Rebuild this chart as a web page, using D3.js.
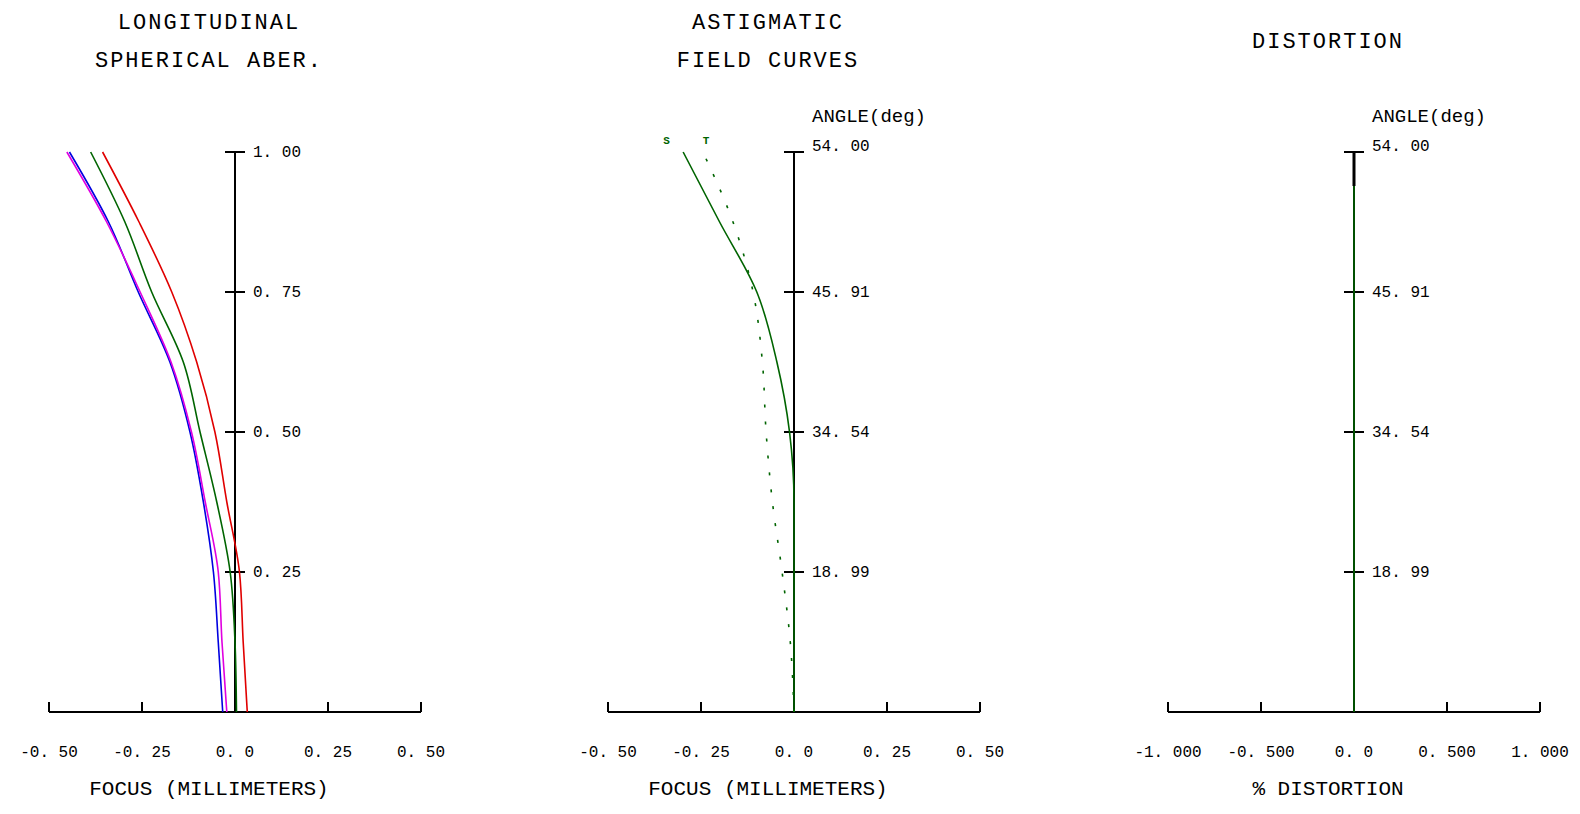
<!DOCTYPE html>
<html>
<head>
<meta charset="utf-8">
<script src="https://d3js.org/d3.v7.min.js"></script>
<style>
  html, body { margin: 0; background: #fff; overflow: hidden; }
  svg { display: block; }
  text { font-family: "Liberation Mono", "DejaVu Sans Mono", monospace; fill: #000; }
</style>
</head>
<body>
<svg id="chart" width="1580" height="814"></svg>
<script>
// longitudinal spherical aberration: relative pupil height vs focus (mm)
var pupil = [0, 0.125, 0.25, 0.375, 0.5, 0.625, 0.75, 0.875, 1.0];
var sphRed = [0.033, 0.022, 0.012, -0.022, -0.054, -0.103, -0.170, -0.258, -0.356];
var sphGreen = [0.004, 0.0, -0.013, -0.049, -0.094, -0.139, -0.224, -0.296, -0.388];
var sphBlue = [-0.033, -0.045, -0.058, -0.085, -0.121, -0.175, -0.260, -0.340, -0.445];
var sphMagenta = [-0.022, -0.035, -0.045, -0.080, -0.117, -0.172, -0.255, -0.345, -0.452];

// astigmatic field curves: relative field height vs focus (mm)
var field = [0, 0.125, 0.25, 0.375, 0.5, 0.625, 0.75, 0.875, 1.0];
var sagittal = [0, 0, 0, 0, -0.012, -0.046, -0.100, -0.200, -0.298];
var tangential = [0, -0.010, -0.032, -0.058, -0.075, -0.085, -0.110, -0.164, -0.245];

// distortion (%)
var distortion = [0, 0, 0, 0, 0, 0, 0, 0, 0];

var fieldPos = [0.25, 0.5, 0.75, 1.0];
var fieldTicks = ["18.99", "34.54", "45.91", "54.00"];
var pupilTicks = ["0.25", "0.50", "0.75", "1.00"];
var focusTicks = [-0.5, -0.25, 0, 0.25, 0.5];
var focusLabels = ["-0.50", "-0.25", "0.0", "0.25", "0.50"];
var distTicks = [-1, -0.5, 0, 0.5, 1];
var distLabels = ["-1.000", "-0.500", "0.0", "0.500", "1.000"];

var svg = d3.select("#chart");
var yTop = 152, yBot = 712;
var sp = function (s) { return s.replace(".", ". "); };

function panel(x0, domain, yLabels, xTicks, xLabels, title, xLabel, angleLabel) {
  var x = d3.scaleLinear().domain(domain).range([x0, x0 + 372]);
  var y = d3.scaleLinear().domain([0, 1]).range([yBot, yTop]);
  var g = svg.append("g");
  g.append("line").attr("x1", x0).attr("x2", x0 + 372).attr("y1", yBot).attr("y2", yBot)
    .attr("stroke", "#000").attr("stroke-width", 2);
  xTicks.forEach(function (t, i) {
    g.append("line").attr("x1", x(t)).attr("x2", x(t)).attr("y1", yBot).attr("y2", yBot - 10)
      .attr("stroke", "#000").attr("stroke-width", 2);
    g.append("text").attr("x", x(t)).attr("y", 757).attr("text-anchor", "middle")
      .attr("font-size", 16).text(sp(xLabels[i]));
  });
  var x0v = x(0);
  g.append("line").attr("x1", x0v).attr("x2", x0v).attr("y1", yTop).attr("y2", yBot)
    .attr("stroke", "#000").attr("stroke-width", 2);
  fieldPos.forEach(function (t, i) {
    g.append("line").attr("x1", x0v - 10).attr("x2", x0v + 10).attr("y1", y(t)).attr("y2", y(t))
      .attr("stroke", "#000").attr("stroke-width", 2);
    g.append("text").attr("x", x0v + 18).attr("y", y(t) + 5 - (angleLabel && i == 3 ? 6 : 0))
      .attr("font-size", 16).text(sp(yLabels[i]));
  });
  g.append("text").attr("x", x0 + 160).attr("y", 795).attr("text-anchor", "middle")
    .attr("font-size", 21).text(xLabel);
  title.forEach(function (s, i) {
    g.append("text").attr("x", x0 + 160).attr("y", (title.length == 1 ? 48 : 29) + i * 38)
      .attr("text-anchor", "middle").attr("font-size", 22).attr("letter-spacing", 2).text(s);
  });
  if (angleLabel) {
    g.append("text").attr("x", x0v + 18).attr("y", 122).attr("font-size", 19).text("ANGLE(deg)");
  }
  return { x: x, y: y, g: g };
}

function curve(p, ys, xs, color, dash) {
  p.g.append("path")
    .datum(ys.map(function (v, i) { return [xs[i], v]; }))
    .attr("fill", "none").attr("stroke", color).attr("stroke-width", 1.6)
    .attr("stroke-dasharray", dash || null)
    .attr("d", d3.line().curve(d3.curveMonotoneY)
      .x(function (d) { return p.x(d[1]); }).y(function (d) { return p.y(d[0]); }));
}

var p1 = panel(49, [-0.5, 0.5], pupilTicks, focusTicks, focusLabels,
  ["LONGITUDINAL", "SPHERICAL ABER."], "FOCUS (MILLIMETERS)", false);
curve(p1, sphRed, pupil, "#e00000");
curve(p1, sphGreen, pupil, "#006400");
curve(p1, sphBlue, pupil, "#0000e0");
curve(p1, sphMagenta, pupil, "#e000e0");

var p2 = panel(608, [-0.5, 0.5], fieldTicks, focusTicks, focusLabels,
  ["ASTIGMATIC", "FIELD CURVES"], "FOCUS (MILLIMETERS)", true);
curve(p2, sagittal, field, "#006400");
curve(p2, tangential, field, "#006400", "3,14");
p2.g.append("text").attr("x", p2.x(sagittal[8]) - 20).attr("y", 144).attr("font-size", 11)
  .attr("font-weight", "bold").style("fill", "#006400").text("S");
p2.g.append("text").attr("x", p2.x(tangential[8])).attr("y", 144).attr("font-size", 11)
  .attr("font-weight", "bold").style("fill", "#006400").text("T");

var p3 = panel(1168, [-1, 1], fieldTicks, distTicks, distLabels,
  ["DISTORTION"], "% DISTORTION", true);
curve(p3, distortion, field, "#006400");
p3.g.append("line").attr("x1", p3.x(0)).attr("x2", p3.x(0)).attr("y1", yTop).attr("y2", yTop + 34)
  .attr("stroke", "#000").attr("stroke-width", 3);
</script>
</body>
</html>
